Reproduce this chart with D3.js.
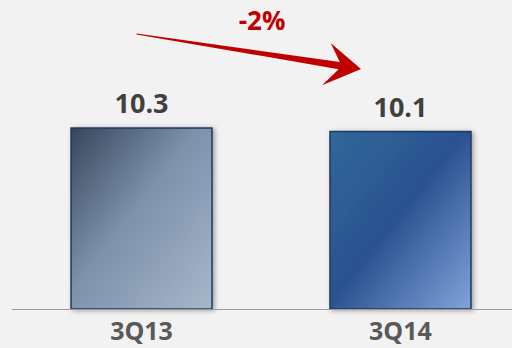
<!DOCTYPE html>
<html>
<head>
<meta charset="utf-8">
<script src="https://cdn.jsdelivr.net/npm/d3@7"></script>
<style>
  html, body { margin: 0; padding: 0; background: #f2f2f2; }
  svg { display: block; }
</style>
</head>
<body>
<svg id="chart"></svg>
<script>
const categories = ["3Q13", "3Q14"];
const values = [10.3, 10.1];
const valueLabels = ["10.3", "10.1"];
const changeLabel = "-2%";

const width = 512;
const height = 348;
const baseY = 309;

const svg = d3.select("#chart").attr("width", width).attr("height", height);

svg.append("rect").attr("width", width).attr("height", height).attr("fill", "#f2f2f2");

const defs = svg.append("defs");

// bar gradients
const g1 = defs.append("linearGradient").attr("id", "grad0")
  .attr("x1", "0").attr("y1", "0").attr("x2", "1").attr("y2", "1");
g1.append("stop").attr("offset", "0%").attr("stop-color", "#37465c");
g1.append("stop").attr("offset", "45%").attr("stop-color", "#7d91ab");
g1.append("stop").attr("offset", "100%").attr("stop-color", "#a8b7ca");

const g2 = defs.append("linearGradient").attr("id", "grad1")
  .attr("x1", "0").attr("y1", "0").attr("x2", "1").attr("y2", "1");
g2.append("stop").attr("offset", "0%").attr("stop-color", "#306899");
g2.append("stop").attr("offset", "48%").attr("stop-color", "#2b5290");
g2.append("stop").attr("offset", "100%").attr("stop-color", "#82a3da");

const shadow = defs.append("filter").attr("id", "shadow")
  .attr("x", "-10%").attr("y", "-10%").attr("width", "130%").attr("height", "130%");
shadow.append("feDropShadow").attr("dx", 2).attr("dy", 1).attr("stdDeviation", 2.5)
  .attr("flood-color", "#000").attr("flood-opacity", 0.35);

const x = d3.scaleBand()
  .domain(categories)
  .range([12, 530])
  .paddingInner(0.4556)
  .paddingOuter(0.228);

const y = d3.scaleLinear()
  .domain([0, 12])
  .range([baseY, baseY - 12 * 17.57]);

// bars
svg.append("g")
  .selectAll("rect")
  .data(values)
  .join("rect")
  .attr("x", (d, i) => x(categories[i]))
  .attr("y", d => y(d))
  .attr("width", x.bandwidth())
  .attr("height", d => y(0) - y(d))
  .attr("fill", (d, i) => `url(#grad${i})`)
  .attr("stroke", "#1f3763")
  .attr("stroke-width", 1.5)
  .attr("filter", "url(#shadow)");

// baseline
svg.append("line")
  .attr("x1", 12).attr("x2", width)
  .attr("y1", baseY + 0.5).attr("y2", baseY + 0.5)
  .attr("stroke", "#9a9a9a").attr("stroke-width", 1.2);

// value labels
svg.append("g")
  .selectAll("text")
  .data(values)
  .join("text")
  .attr("x", (d, i) => x(categories[i]) + x.bandwidth() / 2)
  .attr("y", d => y(d) - 15)
  .attr("text-anchor", "middle")
  .style("font-family", "'Open Sans', sans-serif")
  .style("font-weight", "bold")
  .style("font-size", "27px")
  .attr("fill", "#404040")
  .text((d, i) => valueLabels[i]);

// category labels
svg.append("g")
  .selectAll("text")
  .data(categories)
  .join("text")
  .attr("x", d => x(d) + x.bandwidth() / 2)
  .attr("y", 340)
  .attr("text-anchor", "middle")
  .style("font-family", "'Open Sans', sans-serif")
  .style("font-weight", "bold")
  .style("font-size", "25px")
  .attr("fill", "#595959")
  .text(d => d);

// change arrow
const sx = x(categories[0]) + x.bandwidth() / 2 - 5, sy = 34;
const ex = x(categories[1]) + 31, ey = 69;
const len = Math.hypot(ex - sx, ey - sy);
const ang = Math.atan2(ey - sy, ex - sx) * 180 / Math.PI;
const arrowPts = [
  [0, -0.4], [len - 22, -3.6], [len - 34, -21], [len, 0],
  [len - 36, 22], [len - 22, 3.6], [0, 0.4]
];
svg.append("path")
  .attr("d", d3.line()(arrowPts) + "Z")
  .attr("transform", `translate(${sx},${sy}) rotate(${ang})`)
  .attr("fill", "#c00000");

svg.append("text")
  .attr("x", 262)
  .attr("y", 30)
  .attr("text-anchor", "middle")
  .style("font-family", "'Open Sans', sans-serif")
  .style("font-weight", "bold")
  .style("font-size", "26px")
  .attr("fill", "#c00000")
  .text(changeLabel);
</script>
</body>
</html>
